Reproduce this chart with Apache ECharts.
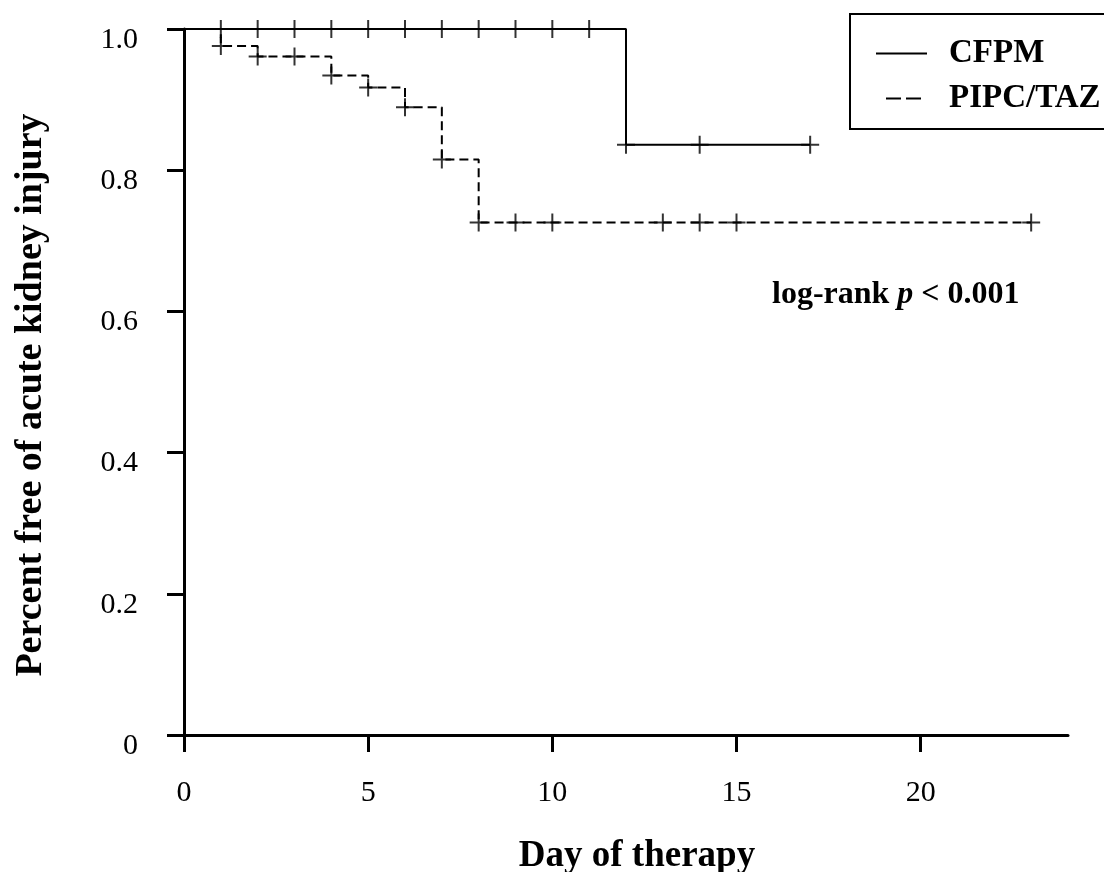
<!DOCTYPE html>
<html>
<head>
<meta charset="utf-8">
<script src="https://cdn.jsdelivr.net/npm/echarts@6/dist/echarts.min.js"></script>
<style>
  html, body { margin: 0; padding: 0; background: #fff; }
  #km { width: 1104px; height: 872px; }
</style>
</head>
<body>
<div id="km"></div>
<script>
// Kaplan-Meier steps (time, survival after the event at that time)
var cfpmTimes = [0, 12, 17];
var cfpmSurv = [1, 0.836, 0.836];
var cfpmCensor = [1, 2, 3, 4, 5, 6, 7, 8, 9, 10, 11, 12, 14, 17];

var pipcTimes = [0, 1, 2, 4, 5, 6, 7, 8, 23];
var pipcSurv = [1, 0.976, 0.961, 0.934, 0.917, 0.889, 0.815, 0.726, 0.726];
var pipcCensor = [1, 2, 3, 4, 5, 6, 7, 8, 9, 10, 13, 14, 15, 23];

var xTicks = [0, 5, 10, 15, 20];

var SERIF = '"Liberation Serif", "DejaVu Serif", serif';
var PLUS = 'path://M8,0h2v8h8v2h-8v8h-2v-8h-8v-2h8z';

function pairs(ts, vs) {
  return ts.map(function (t, i) { return [t, vs[i]]; });
}
// censor marks sit on the curve: take the level of the last step at or before t
function onCurve(ts, vs, censor) {
  return censor.map(function (t) {
    var v = vs[0];
    for (var i = 0; i < ts.length; i++) { if (ts[i] <= t) v = vs[i]; }
    return [t, v];
  });
}

var chart = echarts.init(document.getElementById('km'));
var option = {
  animation: false,
  grid: { left: 184, right: 36, top: 29, bottom: 137, containLabel: false, outerBoundsMode: 'none' },
  legend: {
    orient: 'vertical',
    left: 850, top: 14,
    padding: [23, 40, 14, 25],
    itemGap: 12,
    itemWidth: 68,
    itemHeight: 20,
    borderColor: '#000',
    borderWidth: 2,
    selectedMode: false,
    textStyle: { fontFamily: SERIF, fontWeight: 'bold', fontSize: 33, color: '#000' },
    data: [
      { name: 'CFPM', itemStyle: { opacity: 0 }, lineStyle: { type: [51, 100], width: 2, color: '#000' } },
      { name: 'PIPC/TAZ', itemStyle: { opacity: 0 }, lineStyle: { type: [15, 5, 15, 33], dashOffset: 58, width: 2, color: '#000' } }
    ]
  },
  graphic: [{
    type: 'text',
    left: 772, top: 279,
    style: {
      text: '{b|log-rank }{i|p}{b| < 0.001}',
      rich: {
        b: { fontFamily: SERIF, fontWeight: 'bold', fontSize: 32, fill: '#000' },
        i: { fontFamily: SERIF, fontWeight: 'bold', fontStyle: 'italic', fontSize: 32, fill: '#000' }
      }
    }
  }],
  xAxis: {
    type: 'value', min: 0, max: 24,
    name: 'Day of therapy', nameLocation: 'middle', nameGap: 103,
    nameTextStyle: { fontFamily: SERIF, fontWeight: 'bold', fontSize: 37, color: '#000', padding: [0, 0, 0, 22] },
    axisLine: { lineStyle: { color: '#000', width: 3 } },
    axisTick: { customValues: xTicks, length: 17, lineStyle: { color: '#000', width: 3 } },
    axisLabel: { customValues: xTicks, margin: 43, fontFamily: SERIF, fontSize: 30, color: '#000' },
    splitLine: { show: false }
  },
  yAxis: {
    type: 'value', min: 0, max: 1, interval: 0.2,
    name: 'Percent free of acute kidney injury', nameLocation: 'middle', nameGap: 134,
    nameTextStyle: { fontFamily: SERIF, fontWeight: 'bold', fontSize: 38, color: '#000', padding: [0, 26, 0, 0] },
    axisLine: { lineStyle: { color: '#000', width: 3 } },
    axisTick: { length: 17, lineStyle: { color: '#000', width: 3 } },
    axisLabel: {
      margin: 46, fontFamily: SERIF, fontSize: 30, color: '#000',
      verticalAlign: 'top', lineHeight: 22,
      formatter: function (v) { return v === 0 ? '0' : v.toFixed(1); }
    },
    splitLine: { show: false }
  },
  series: [
    {
      name: 'CFPM', type: 'line', step: 'end', symbol: 'none', clip: false,
      data: pairs(cfpmTimes, cfpmSurv),
      lineStyle: { color: '#000', width: 2 }, itemStyle: { color: '#000' }
    },
    {
      name: 'PIPC/TAZ', type: 'line', step: 'end', symbol: 'none', clip: false,
      data: pairs(pipcTimes, pipcSurv),
      lineStyle: { color: '#000', width: 2, type: [9, 5] }, itemStyle: { color: '#000' }
    },
    {
      name: 'CFPM censored', type: 'scatter', symbol: PLUS, symbolSize: 18, clip: false,
      data: onCurve(cfpmTimes, cfpmSurv, cfpmCensor), itemStyle: { color: '#000' }
    },
    {
      name: 'PIPC/TAZ censored', type: 'scatter', symbol: PLUS, symbolSize: 18, clip: false,
      data: onCurve(pipcTimes, pipcSurv, pipcCensor), itemStyle: { color: '#000' }
    }
  ]
};
chart.setOption(option);
</script>
</body>
</html>
